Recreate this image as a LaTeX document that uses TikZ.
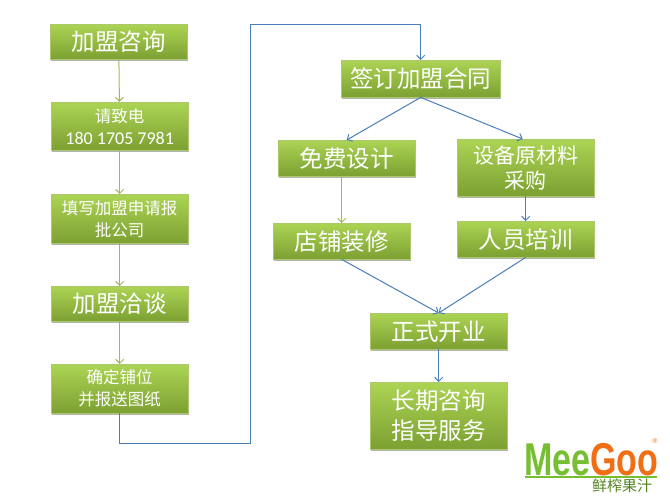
\documentclass[tikz,border=0pt]{standalone}
\usepackage{fontspec}
\usepackage{graphicx}
\setmainfont{Carlito}
\newfontfamily\cjk{Noto Sans CJK SC}
\newfontfamily\logofont{Liberation Sans}
\usepackage{color}
\definecolor{boxtop}{RGB}{172,212,84}
\definecolor{boxbottom}{RGB}{124,160,50}
\definecolor{boxedge}{RGB}{172,200,108}
\definecolor{linegreen}{RGB}{155,187,89}
\definecolor{lineblue}{RGB}{74,126,187}
\definecolor{logogreen}{RGB}{120,190,50}
\definecolor{logoorange}{RGB}{240,110,20}
\usetikzlibrary{shadows}
\usetikzlibrary{arrows.meta}
\newcommand{\widthbox}{137pt}
\newcommand{\sizedcjk}[2]{\cjk\fontsize{#1}{#2}\selectfont}
\tikzset{
    common/.style={anchor=north west, draw=boxedge, rectangle, top color=boxtop, bottom color=boxbottom, text=white, align=center, inner sep=0pt, minimum width=\widthbox, drop shadow={shadow xshift=0.8pt, shadow yshift=-1.5pt, fill=black!60, opacity=0.5}, font=\sizedcjk{23.5}{30}},
    small/.style={font=\sizedcjk{16.5}{22}},
    tip/.style={-{Straight Barb[length=4pt, width=8pt]}},
    green-line/.style={tip, linegreen, line width=1pt},
    blue-line/.style={tip, lineblue, line width=1pt}
}

\begin{document}
\begin{tikzpicture}[x=1pt, y=-1pt]
    \useasboundingbox (0,0) rectangle (670,500);

    % left column
    \node[common, minimum height=35pt] (consult) at (50,24) {加盟咨询};
    \node[common, small, minimum height=48pt] (phone) at (51,102) {请致电\\{\rmfamily\fontsize{18}{22}\selectfont 180 1705 7981}};
    \node[common, small, minimum height=49pt] (form) at (51,194) {填写加盟申请报\\批公司};
    \node[common, minimum height=35pt] (talk) at (51,286) {加盟洽谈};
    \node[common, small, minimum height=49pt] (site) at (51,364) {确定铺位\\并报送图纸};

    % right part
    \node[common, minimum width=159pt, minimum height=37pt] (contract) at (341,60) {签订加盟合同};
    \node[common, minimum height=36pt] (design) at (278,140) {免费设计};
    \node[common, font=\sizedcjk{21}{25}, minimum height=57pt] (equip) at (457,139) {设备原材料\\采购};
    \node[common, minimum height=36pt] (decor) at (273,223) {店铺装修};
    \node[common, minimum height=36pt] (train) at (457,221) {人员培训};
    \node[common, minimum height=36pt] (open) at (370,313) {正式开业};
    \node[common, minimum height=67pt] (service) at (370,382) {长期咨询\\指导服务};

    \coordinate (low) at (250,443);
    \coordinate (high) at (250,25);

    \draw[green-line] (consult) -- (phone);
    \draw[green-line] (phone) -- (form);
    \draw[green-line] (form) -- (talk);
    \draw[green-line] (talk) -- (site);
    \draw[green-line] (decor.north |- design.south) -- (decor.north);
    \draw[blue-line] (site.south) |- (low) -- (high) -| (contract.north);
    \draw[blue-line] (contract.south) -- (design.north);
    \draw[blue-line] (contract.south) -- ([xshift=-3pt]equip.north);
    \draw[blue-line] (equip) -- (train);
    \draw[blue-line] (decor.south) -- (open.north);
    \draw[blue-line] (train.south) -- (open.north);
    \draw[blue-line] (open) -- (service);

    % logo
    \node[inner sep=0pt, anchor=base west, font=\logofont\bfseries\fontsize{46}{46}\selectfont] (logo) at (524,475) {\scalebox{0.74}[1]{\textcolor{logogreen}{Mee}\textcolor{logoorange}{Goo}}};
    \node[inner sep=0pt, text=logoorange, font=\logofont\fontsize{7}{7}\selectfont] (reg) at (655,441) {®};
    \node[inner sep=0pt, text=logogreen!70!black, font=\sizedcjk{15}{15}] (slogan) at (622,486) {鲜榨果汁};
    \coordinate (rulefrom) at (525,477);
    \coordinate (ruleto) at (657,477);
    \draw[logogreen, line width=1.2pt] (rulefrom) -- (ruleto);
\end{tikzpicture}
\end{document}
